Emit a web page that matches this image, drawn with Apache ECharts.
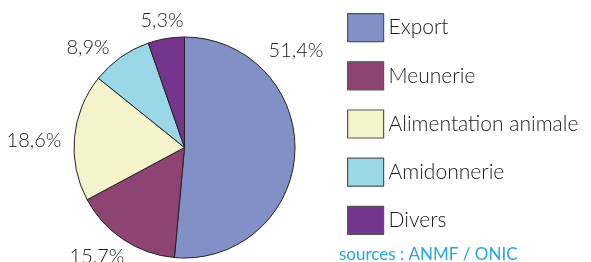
<!DOCTYPE html>
<html>
<head>
<meta charset="utf-8">
<style>
    html, body { margin: 0; padding: 0; background: #fff; }
    #chart { width: 591px; height: 262px; }
</style>
</head>
<body>
<div id="chart"></div>
<script src="https://cdn.jsdelivr.net/npm/echarts@6.0.0/dist/echarts.min.js"></script>
<script>
    // débouchés (parts en %)
    var categories = ['Export', 'Meunerie', 'Alimentation animale', 'Amidonnerie', 'Divers'];
    var values = [51.4, 15.7, 18.6, 8.9, 5.3];
    var labels = ['51,4%', '15,7%', '18,6%', '8,9%', '5,3%'];

    var colors = ['#8290c6', '#8d4472', '#f4f3cc', '#9ad8e8', '#75358f'];
    // label anchor points (px), placed by hand like the original
    var labelPos = [[296, 51], [97, 257], [34, 141], [88, 48], [162, 21]];

    var myChart = echarts.init(document.getElementById('chart'));
    var option = {
        animation: false,
        color: colors,
        title: {
            text: 'sources : ANMF / ONIC',
            left: 339,
            top: 246,
            padding: 0,
            textStyle: {
                fontFamily: 'Lato',
                fontWeight: 'normal',
                fontSize: 17,
                color: '#2aa5dd'
            }
        },
        legend: {
            orient: 'vertical',
            left: 342,
            top: 8,
            padding: 5,
            itemWidth: 36,
            itemHeight: 28,
            itemGap: 19,
            icon: 'rect',
            itemStyle: { borderColor: '#555', borderWidth: 1.2 },
            textStyle: {
                fontFamily: 'Lato',
                fontWeight: 300,
                fontSize: 21,
                lineHeight: 28,
                color: '#1a1a1a'
            },
            data: categories
        },
        series: [{
            type: 'pie',
            center: [184.5, 147.5],
            radius: 110.5,
            startAngle: 90,
            clockwise: true,
            itemStyle: { borderColor: '#222', borderWidth: 1 },
            label: {
                show: true,
                position: 'outside',
                overflow: 'none',
                fontFamily: 'Lato',
                fontWeight: 300,
                fontSize: 20,
                color: '#222',
                formatter: function (p) { return labels[p.dataIndex]; }
            },
            labelLine: { show: false },
            labelLayout: function (p) {
                var pos = labelPos[p.dataIndex];
                return { x: pos[0], y: pos[1], align: 'center', verticalAlign: 'middle' };
            },
            emphasis: { disabled: true },
            data: categories.map(function (c, i) {
                return { name: c, value: values[i] };
            })
        }]
    };
    myChart.setOption(option);
</script>
</body>
</html>
